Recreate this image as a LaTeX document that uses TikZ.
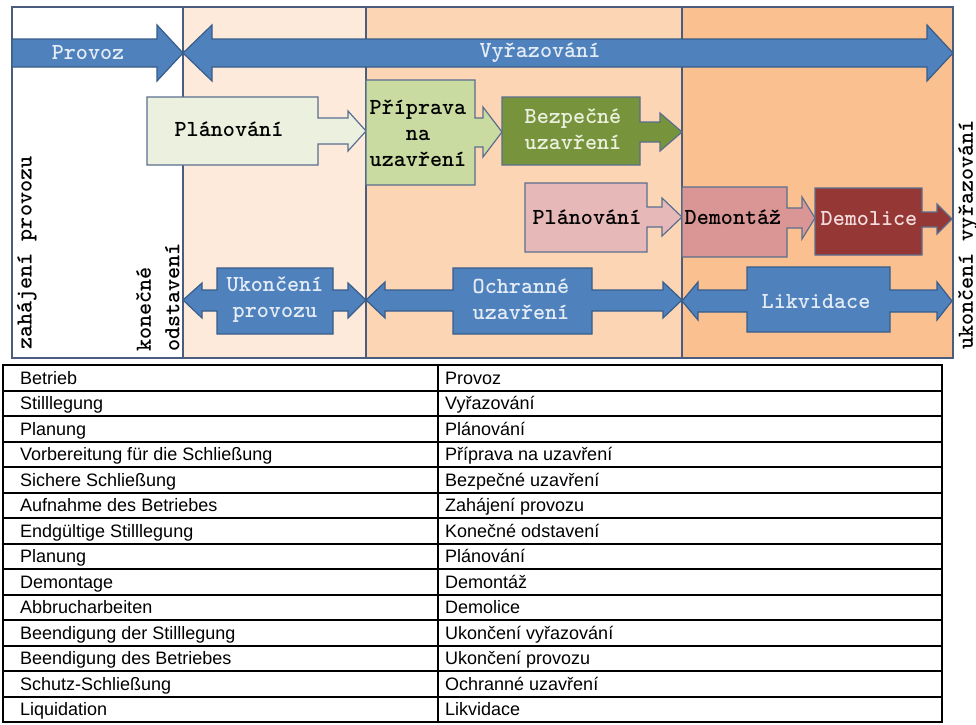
\documentclass[tikz,border=0pt]{standalone}
\usepackage{fontspec}
\setmainfont{Liberation Sans}
\usetikzlibrary{calc}
\definecolor{colA}{HTML}{FDEADA}
\definecolor{colB}{HTML}{FCD5B5}
\definecolor{colC}{HTML}{FAC090}
\definecolor{divcol}{HTML}{4A5D7E}
\definecolor{arrblue}{HTML}{4F81BD}
\definecolor{arrbluedk}{HTML}{385D8A}
\definecolor{outl}{HTML}{5A6F8F}
\definecolor{gLight}{HTML}{EBF1DE}
\definecolor{gMid}{HTML}{C9DBA0}
\definecolor{gDark}{HTML}{77933C}
\definecolor{pLight}{HTML}{E6B9B8}
\definecolor{pMid}{HTML}{D99694}
\definecolor{pDark}{HTML}{953735}
\definecolor{ltxt}{HTML}{E4ECF6}
\definecolor{gtxt}{HTML}{EBF1DE}
\definecolor{rtxt}{HTML}{F2DCDB}
\begin{document}
\begin{tikzpicture}[x=1pt,y=-1pt,
  divline/.style={draw=divcol, line width=1.6pt},
  bluesh/.style={fill=arrblue, draw=arrbluedk, line width=1.2pt, line join=miter},
  sh/.style={draw=outl, line width=1.2pt, line join=miter},
  lbl/.style={font=\ttfamily\bfseries\fontsize{23}{26}\selectfont, inner sep=0pt, align=center},
  vlbl/.style={font=\ttfamily\bfseries\fontsize{23}{28.5}\selectfont, inner sep=0pt, rotate=90, anchor=west},
  tbl/.style={draw=black, line width=2pt},
  tt/.style={font=\fontsize{18}{20}\selectfont, inner sep=0pt, anchor=base west}]
\useasboundingbox (0,0) rectangle (976,724);
% column backgrounds
\fill[white] (12,7) rectangle (183,358);
\fill[colA] (183,7) rectangle (366,358);
\fill[colB] (366,7) rectangle (682,358);
\fill[colC] (682,7) rectangle (953,358);
\draw[divline] (183,7) -- (183,358);
\draw[divline] (366,7) -- (366,358);
\draw[divline] (682,7) -- (682,358);
\draw[divline] (12,7) rectangle (953,358);
% top arrows
\draw[bluesh] (12,39) -- (157,39) -- (157,25) -- (183,53) -- (157,81) -- (157,67) -- (12,67) -- cycle;
\draw[bluesh] (183,53) -- (212,25) -- (212,39) -- (927,39) -- (927,25) -- (953,53) -- (927,81) -- (927,67) -- (212,67) -- (212,81) -- cycle;
% green row
\draw[sh, fill=gLight] (147,97) -- (318,97) -- (318,118) -- (348,118) -- (348,111) -- (366,131) -- (348,151) -- (348,144) -- (318,144) -- (318,165) -- (147,165) -- cycle;
\draw[sh, fill=gMid] (366,80) -- (475,80) -- (475,118) -- (483,118) -- (483,107) -- (502,132) -- (483,157) -- (483,147) -- (475,147) -- (475,185) -- (366,185) -- cycle;
\draw[sh, fill=gDark] (502,97) -- (640,97) -- (640,122) -- (660,122) -- (660,113) -- (682,132) -- (660,151) -- (660,142) -- (640,142) -- (640,165) -- (502,165) -- cycle;
% pink row
\draw[sh, fill=pLight] (525,183) -- (647,183) -- (647,207) -- (662,207) -- (662,198) -- (682,217) -- (662,236) -- (662,227) -- (647,227) -- (647,252) -- (525,252) -- cycle;
\draw[sh, fill=pMid] (682,187) -- (787,187) -- (787,208) -- (802,208) -- (802,197) -- (815,218) -- (802,239) -- (802,228) -- (787,228) -- (787,257) -- (682,257) -- cycle;
\draw[sh, fill=pDark] (815,188) -- (922,188) -- (922,212) -- (937,212) -- (937,204) -- (952,219) -- (937,234) -- (937,227) -- (922,227) -- (922,255) -- (815,255) -- cycle;
% blue row
\draw[bluesh] (183,300) -- (202,283) -- (202,290) -- (217,290) -- (217,268) -- (333,268) -- (333,290) -- (348,290) -- (348,283) -- (366,300) -- (348,318) -- (348,311) -- (333,311) -- (333,334) -- (217,334) -- (217,311) -- (202,311) -- (202,318) -- cycle;
\draw[bluesh] (366,300) -- (385,282) -- (385,290) -- (453,290) -- (453,268) -- (592,268) -- (592,290) -- (663,290) -- (663,282) -- (682,300) -- (663,318) -- (663,311) -- (592,311) -- (592,334) -- (453,334) -- (453,311) -- (385,311) -- (385,318) -- cycle;
\draw[bluesh] (682,301) -- (698,282) -- (698,290) -- (747,290) -- (747,267) -- (890,267) -- (890,290) -- (937,290) -- (937,282) -- (952,301) -- (937,320) -- (937,312) -- (890,312) -- (890,332) -- (747,332) -- (747,312) -- (698,312) -- (698,320) -- cycle;
% labels
\node[lbl, text=ltxt] (provoz) at (88,53) {Provoz};
\node[lbl, text=ltxt] (vyr) at (540,53) {Vyřazování};
\node[lbl] (plan1) at (229,129) {Plánování};
\node[lbl] (prip) at (418,133) {Příprava\\na\\uzavření};
\node[lbl, text=gtxt] (bezp) at (573,129) {Bezpečné\\uzavření};
\node[lbl] (plan2) at (587,217) {Plánování};
\node[lbl] (demt) at (733,217) {Demontáž};
\node[lbl, text=rtxt] (demo) at (869,219) {Demolice};
\node[lbl, text=ltxt] (ukp) at (275,300) {Ukončení\\provozu};
\node[lbl, text=ltxt] (ochr) at (521,299) {Ochranné\\uzavření};
\node[lbl, text=ltxt] (likv) at (816,302) {Likvidace};
% vertical labels
\node[vlbl] (zah) at (27,350) {zahájení provozu};
\node[vlbl, align=left] (kon) at (158,352) {konečné\\odstavení};
\node[vlbl] (ukv) at (968,350) {ukončení vyřazování};
% table
\draw[tbl] (438,365) -- (438,722);
\foreach \k in {1,...,13} \draw[tbl] (3,{365+25.5*\k}) -- (942,{365+25.5*\k});
\draw[tbl] (3,365) rectangle (942,722);
\foreach \a/\b [count=\i] in {Betrieb/Provoz, Stilllegung/Vyřazování, Planung/Plánování,
  Vorbereitung für die Schließung/Příprava na uzavření, Sichere Schließung/Bezpečné uzavření,
  Aufnahme des Betriebes/Zahájení provozu, Endgültige Stilllegung/Konečné odstavení,
  Planung/Plánování, Demontage/Demontáž, Abbrucharbeiten/Demolice,
  Beendigung der Stilllegung/Ukončení vyřazování, Beendigung des Betriebes/Ukončení provozu,
  Schutz-Schließung/Ochranné uzavření, Liquidation/Likvidace} {
  \node[tt] (L\i) at (20,{365+25.5*(\i-0.5)+6.5}) {\a};
  \node[tt] (R\i) at (445,{365+25.5*(\i-0.5)+6.5}) {\b};
}
\end{tikzpicture}
\end{document}
